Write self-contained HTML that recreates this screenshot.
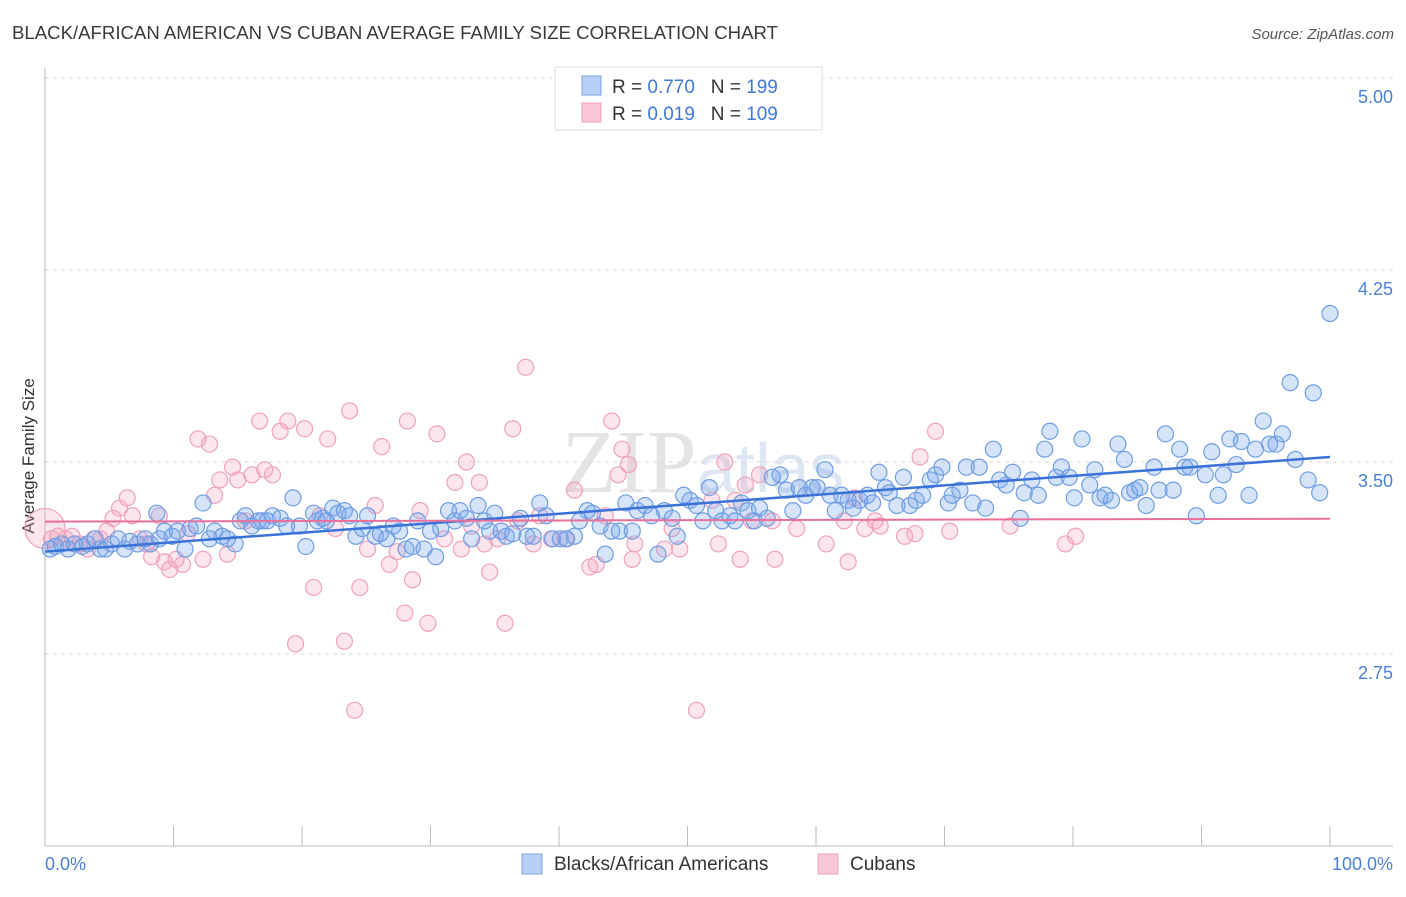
<!DOCTYPE html>
<html><head><meta charset="utf-8"><style>
body{margin:0;background:#fff;font-family:"Liberation Sans",sans-serif}
#wrap{position:relative;width:1406px;height:892px}
</style></head><body>
<div id="wrap">
<svg id="svg" width="1406" height="892">
<text x="12" y="39" font-size="18.6" fill="#3a3a3a">BLACK/AFRICAN AMERICAN VS CUBAN AVERAGE FAMILY SIZE CORRELATION CHART</text>
<text x="1394" y="39" font-size="15" fill="#555" text-anchor="end" font-style="italic">Source: ZipAtlas.com</text>
<text x="703" y="492" font-size="90" fill="#e4e4e4" text-anchor="middle" font-family="Liberation Serif">ZIP<tspan font-family="Liberation Sans" font-size="70" fill="#dde6f2">atlas</tspan></text>
<text transform="translate(34,456) rotate(-90)" font-size="17" fill="#333" text-anchor="middle">Average Family Size</text>
<g id="grid"></g><g id="pts"></g><g id="trend"></g>
<g>
<rect x="555" y="67" width="267" height="63" fill="#fff" stroke="#ddd"/>
<rect x="582" y="76" width="19" height="19" fill="#b8d0f5" stroke="#7aa3e6"/>
<rect x="582" y="103" width="19" height="19" fill="#f8c8d6" stroke="#eea2ba"/>
<text x="612" y="93" font-size="19" fill="#333">R = <tspan fill="#3f78d8">0.770</tspan>&#160;&#160;&#160;N = <tspan fill="#3f78d8">199</tspan></text>
<text x="612" y="120" font-size="19" fill="#333">R = <tspan fill="#3f78d8">0.019</tspan>&#160;&#160;&#160;N = <tspan fill="#3f78d8">109</tspan></text>
</g>
<text x="45" y="870" font-size="18" fill="#4a7fd4">0.0%</text>
<text x="1393" y="870" font-size="18" fill="#4a7fd4" text-anchor="end">100.0%</text>
<rect x="522" y="854" width="20" height="20" fill="#b8d0f5" stroke="#7aa3e6"/>
<text x="554" y="870" font-size="19" fill="#333">Blacks/African Americans</text>
<rect x="818" y="854" width="20" height="20" fill="#f8c8d6" stroke="#eea2ba"/>
<text x="850" y="870" font-size="19" fill="#333">Cubans</text>
</svg></div>
<script>
const yTicks=[2.75,3.5,4.25,5.0];
const yTickLabels=["2.75","3.50","4.25","5.00"];
const xTicks=[0,10,20,30,40,50,60,70,80,90,100];
const blueX=[0.4,0.8,1.3,1.8,2.3,2.9,3.3,3.9,4.3,4.7,5.2,5.7,6.2,6.6,7.2,7.8,8.2,8.7,8.9,9.3,9.9,10.3,10.9,11.3,11.8,12.3,12.8,13.2,13.8,14.2,14.8,15.2,15.6,16.1,16.6,16.9,17.3,17.7,18.3,18.8,19.3,19.8,20.3,20.9,21.2,21.6,21.9,22.4,22.8,23.3,23.7,24.2,24.7,25.1,25.7,26.1,26.6,27.1,27.6,28.1,28.6,29.0,29.5,30.0,30.4,30.8,31.4,31.9,32.3,32.8,33.2,33.7,34.2,34.6,35.0,35.5,35.9,36.4,37.0,37.5,38.0,38.5,39.0,39.5,40.1,40.6,41.2,41.6,42.2,42.6,43.2,43.6,44.1,44.7,45.2,45.7,46.1,46.7,47.2,47.7,48.2,48.8,49.2,49.7,50.2,50.7,51.2,51.7,52.2,52.7,53.3,53.7,54.2,54.7,55.2,55.6,56.2,56.6,57.2,57.7,58.2,58.7,59.2,59.7,60.1,60.7,61.1,61.5,62.0,62.5,62.9,63.4,64.0,64.4,64.9,65.4,65.7,66.3,66.8,67.3,67.8,68.3,68.9,69.3,69.8,70.3,70.6,71.2,71.7,72.2,72.7,73.2,73.8,74.3,74.8,75.3,75.9,76.2,76.8,77.3,77.8,78.2,78.7,79.1,79.7,80.1,80.7,81.3,81.7,82.1,82.5,83.0,83.5,84.0,84.4,84.8,85.2,85.7,86.3,86.7,87.2,87.8,88.3,88.7,89.1,89.6,90.3,90.8,91.3,91.7,92.2,92.7,93.1,93.7,94.2,94.8,95.3,95.8,96.3,96.9,97.3,98.3,98.7,99.2,100.0];
const blueY=[3.16,3.17,3.18,3.16,3.18,3.17,3.18,3.20,3.16,3.16,3.18,3.20,3.16,3.19,3.18,3.20,3.18,3.30,3.20,3.23,3.21,3.23,3.16,3.24,3.25,3.34,3.20,3.23,3.21,3.20,3.18,3.27,3.29,3.25,3.27,3.27,3.27,3.29,3.28,3.25,3.36,3.25,3.17,3.30,3.27,3.28,3.27,3.32,3.30,3.31,3.29,3.21,3.24,3.29,3.21,3.22,3.20,3.25,3.23,3.16,3.17,3.27,3.16,3.23,3.13,3.24,3.31,3.27,3.31,3.28,3.20,3.33,3.27,3.23,3.30,3.23,3.21,3.22,3.28,3.21,3.21,3.34,3.29,3.20,3.20,3.20,3.21,3.27,3.31,3.30,3.25,3.14,3.23,3.23,3.34,3.23,3.31,3.33,3.29,3.14,3.31,3.28,3.21,3.37,3.35,3.33,3.27,3.40,3.31,3.27,3.29,3.27,3.34,3.31,3.27,3.32,3.28,3.44,3.45,3.39,3.31,3.40,3.37,3.40,3.40,3.47,3.37,3.31,3.37,3.35,3.32,3.35,3.37,3.34,3.46,3.40,3.38,3.33,3.44,3.33,3.35,3.37,3.43,3.45,3.48,3.34,3.37,3.39,3.48,3.34,3.48,3.32,3.55,3.43,3.41,3.46,3.28,3.38,3.43,3.37,3.55,3.62,3.44,3.48,3.44,3.36,3.59,3.41,3.47,3.36,3.37,3.35,3.57,3.51,3.38,3.39,3.40,3.33,3.48,3.39,3.61,3.39,3.55,3.48,3.48,3.29,3.45,3.54,3.37,3.45,3.59,3.49,3.58,3.37,3.55,3.66,3.57,3.57,3.61,3.81,3.51,3.43,3.77,3.38,4.08];
const pinkX=[0,0.5,1.0,1.6,2.1,2.7,3.3,3.8,4.3,4.8,5.3,5.8,6.4,6.8,7.4,7.9,8.3,8.9,9.3,9.7,10.2,10.7,11.1,11.9,12.3,12.8,13.2,13.6,14.2,14.6,15.0,15.6,16.1,16.7,17.1,17.7,18.3,18.9,19.5,20.2,20.9,21.4,22.0,22.6,23.3,23.7,24.1,24.5,25.1,25.7,26.2,26.8,27.4,28.0,28.2,28.6,29.2,29.8,30.5,31.1,31.9,32.4,32.8,33.2,33.8,34.2,34.6,35.2,35.8,36.4,36.8,37.4,38.0,38.5,39.4,40.5,41.2,42.4,42.9,43.6,44.1,44.6,44.9,45.4,45.7,45.9,48.2,48.8,49.4,50.7,51.9,52.4,52.9,53.7,54.1,54.5,55.0,55.6,56.6,56.8,58.5,60.8,62.2,62.5,63.0,63.8,64.6,65.0,66.9,67.7,68.1,69.3,70.4,75.1,79.4,80.2];
const pinkY=[3.24,3.20,3.21,3.20,3.21,3.18,3.16,3.20,3.20,3.23,3.28,3.32,3.36,3.29,3.20,3.18,3.13,3.29,3.11,3.08,3.12,3.10,3.22,3.59,3.12,3.57,3.37,3.43,3.14,3.48,3.43,3.27,3.45,3.66,3.47,3.45,3.62,3.66,2.79,3.63,3.01,3.29,3.59,3.24,2.80,3.70,2.53,3.01,3.16,3.33,3.56,3.10,3.15,2.91,3.66,3.04,3.31,2.87,3.61,3.20,3.42,3.16,3.50,3.25,3.42,3.18,3.07,3.20,2.87,3.63,3.27,3.87,3.18,3.29,3.20,3.20,3.39,3.09,3.10,3.29,3.66,3.45,3.55,3.49,3.12,3.18,3.16,3.24,3.16,2.53,3.35,3.18,3.50,3.35,3.12,3.41,3.27,3.45,3.27,3.12,3.24,3.18,3.27,3.11,3.36,3.24,3.27,3.25,3.21,3.22,3.52,3.62,3.23,3.25,3.18,3.21];
const NS="http://www.w3.org/2000/svg";
const X0=45,X1=1330,YT=78,YB=846,VMIN=2.0,VMAX=5.0;
function xs(p){return X0+(X1-X0)*p/100}
function ys(v){return YB-(YB-YT)*(v-VMIN)/(VMAX-VMIN)}
function mk(tag,attrs,parent){const e=document.createElementNS(NS,tag);for(const k in attrs)e.setAttribute(k,attrs[k]);parent.appendChild(e);return e}
const grid=document.getElementById('grid'),pts=document.getElementById('pts'),tr=document.getElementById('trend');
yTicks.forEach((v,i)=>{
  const l=mk('line',{x1:45,x2:1393,y1:ys(v),y2:ys(v),stroke:'#d8d8d8','stroke-dasharray':'4,4'},grid);
  
  
  const t=mk('text',{x:1393,y:ys(v)+25,'font-size':18,fill:'#4a7fd4','text-anchor':'end'},grid);
  t.textContent=yTickLabels[i];
  
  
});
const ax=mk('line',{x1:45,x2:45,y1:68,y2:846,stroke:'#bbb'},grid);


const bx=mk('line',{x1:45,x2:1393,y1:846,y2:846,stroke:'#bbb'},grid);


xTicks.forEach(p=>{
  const t=mk('line',{x1:xs(p),x2:xs(p),y1:826,y2:846,stroke:'#bbb'},grid);
  
  
});
pinkX.forEach((p,i)=>{
  const c=mk('circle',{cx:xs(p),cy:ys(pinkY[i]),r:i===0?20:8,fill:'rgba(244,160,188,0.28)',stroke:'#eea2ba','stroke-width':1.2},pts);
  
  
});
blueX.forEach((p,i)=>{
  const c=mk('circle',{cx:xs(p),cy:ys(blueY[i]),r:8,fill:'rgba(120,165,235,0.3)',stroke:'#6f9de2','stroke-width':1.2},pts);
  
  
});
function fit(xa,ya){const n=xa.length;let mx=0,my=0;for(let i=0;i<n;i++){mx+=xa[i];my+=ya[i]}mx/=n;my/=n;let sxy=0,sxx=0;for(let i=0;i<n;i++){sxy+=(xa[i]-mx)*(ya[i]-my);sxx+=(xa[i]-mx)**2}const b=sxy/sxx;return [my-b*mx,b]}
const fb=fit(blueX,blueY),fp=fit(pinkX,pinkY);
const lb=mk('line',{x1:xs(0),y1:ys(fb[0]),x2:xs(100),y2:ys(fb[0]+fb[1]*100),stroke:'#3a72d8','stroke-width':2.5},tr);


const lp=mk('line',{x1:xs(0),y1:ys(fp[0]),x2:xs(100),y2:ys(fp[0]+fp[1]*100),stroke:'#e8709a','stroke-width':2},tr);


</script>
</body></html>
